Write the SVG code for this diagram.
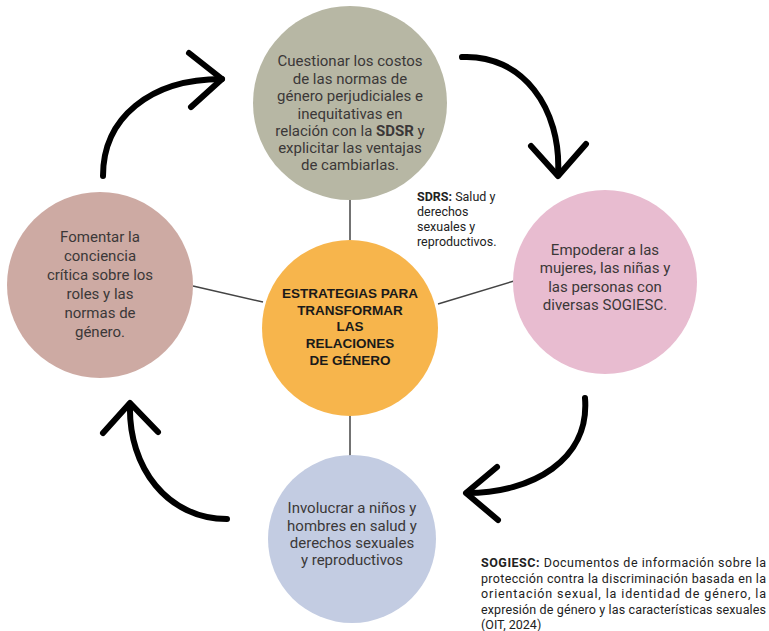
<svg xmlns="http://www.w3.org/2000/svg" width="769" height="631" viewBox="0 0 769 631">
  <style>
    .node-text { font-family: "Roboto", "Liberation Sans", sans-serif; font-size: 15px; fill: #3b3838; text-anchor: middle; }
    .center-text { font-family: "Liberation Sans", "Roboto", sans-serif; font-size: 13.5px; font-weight: bold; fill: #1a1a1a; text-anchor: middle; }
    .note { font-family: "Roboto", "Liberation Sans", sans-serif; font-size: 12.5px; fill: #222; }
    .link { stroke: #444; stroke-width: 1.5; fill: none; }
    .cycle { stroke: #000; stroke-width: 6; fill: none; stroke-linecap: round; stroke-linejoin: round; }
  </style>
  <rect width="769" height="631" fill="#ffffff"/>

  <!-- spokes from the hub to each strategy -->
  <g id="connectors">
    <line class="link" x1="350" y1="198" x2="350" y2="245"/>
    <line class="link" x1="350" y1="412" x2="350" y2="460"/>
    <line class="link" x1="193" y1="286" x2="263" y2="302"/>
    <line class="link" x1="438" y1="304" x2="514" y2="281"/>
  </g>

  <!-- cycle arrows between the outer circles -->
  <g id="cycle-arrows">
    <path class="cycle" d="M103,176 C103,118 150,79 222,79"/>
    <path class="cycle" d="M189,53 L222,79 L191,107"/>
    <path class="cycle" d="M462,57 C522,54 562,108 558,175"/>
    <path class="cycle" d="M531,146 L558,176 L586,144"/>
    <path class="cycle" d="M585,398 C590,460 532,493 467,493"/>
    <path class="cycle" d="M497,467 L466,493 L498,520"/>
    <path class="cycle" d="M227,519 C168,519 128,468 130,404"/>
    <path class="cycle" d="M103,433 L130,403 L158,432"/>
  </g>

  <g id="node-top">
    <circle cx="350" cy="103" r="97" fill="#b7b7a4"/>
    <text class="node-text"><tspan x="350" y="66">Cuestionar los costos</tspan><tspan x="350" y="84">de las normas de</tspan><tspan x="350" y="101">género perjudiciales e</tspan><tspan x="350" y="119">inequitativas en</tspan><tspan x="350" y="136">relación con la <tspan font-weight="bold">SDSR</tspan> y</tspan><tspan x="350" y="153">explicitar las ventajas</tspan><tspan x="350" y="170">de cambiarlas.</tspan></text>
  </g>

  <g id="node-right">
    <circle cx="605" cy="282" r="92" fill="#e8bcd0"/>
    <text class="node-text"><tspan x="605" y="255">Empoderar a las</tspan><tspan x="605" y="273">mujeres, las niñas y</tspan><tspan x="605" y="292">las personas con</tspan><tspan x="605" y="310">diversas SOGIESC.</tspan></text>
  </g>

  <g id="node-left">
    <circle cx="100" cy="285" r="93" fill="#cdaaa3"/>
    <text class="node-text"><tspan x="100" y="242">Fomentar la</tspan><tspan x="100" y="261">conciencia</tspan><tspan x="100" y="280">crítica sobre los</tspan><tspan x="100" y="299">roles y las</tspan><tspan x="100" y="318">normas de</tspan><tspan x="100" y="337">género.</tspan></text>
  </g>

  <g id="node-bottom">
    <circle cx="352" cy="539" r="84" fill="#c3cce2"/>
    <text class="node-text"><tspan x="352" y="513">Involucrar a niños y</tspan><tspan x="352" y="531">hombres en salud y</tspan><tspan x="352" y="548">derechos sexuales</tspan><tspan x="352" y="565">y reproductivos</tspan></text>
  </g>

  <g id="node-center">
    <circle cx="350" cy="328" r="88" fill="#f7b54c"/>
    <text class="center-text"><tspan x="350" y="298">ESTRATEGIAS PARA</tspan><tspan x="350" y="315">TRANSFORMAR</tspan><tspan x="350" y="331">LAS</tspan><tspan x="350" y="348">RELACIONES</tspan><tspan x="350" y="365">DE GÉNERO</tspan></text>
  </g>

  <g id="note-sdrs">
    <text class="note"><tspan x="417" y="201"><tspan font-weight="bold">SDRS:</tspan> Salud y</tspan><tspan x="417" y="216">derechos</tspan><tspan x="417" y="231">sexuales y</tspan><tspan x="417" y="246">reproductivos.</tspan></text>
  </g>

  <g id="note-sogiesc">
    <text class="note"><tspan x="481" y="567" textLength="285" lengthAdjust="spacing"><tspan font-weight="bold">SOGIESC:</tspan> Documentos de información sobre la</tspan><tspan x="481" y="583" textLength="285" lengthAdjust="spacing">protección contra la discriminación basada en la</tspan><tspan x="481" y="598" textLength="285" lengthAdjust="spacing">orientación sexual, la identidad de género, la</tspan><tspan x="481" y="614" textLength="285" lengthAdjust="spacing">expresión de género y las características sexuales</tspan><tspan x="481" y="629">(OIT, 2024)</tspan></text>
  </g>
</svg>
